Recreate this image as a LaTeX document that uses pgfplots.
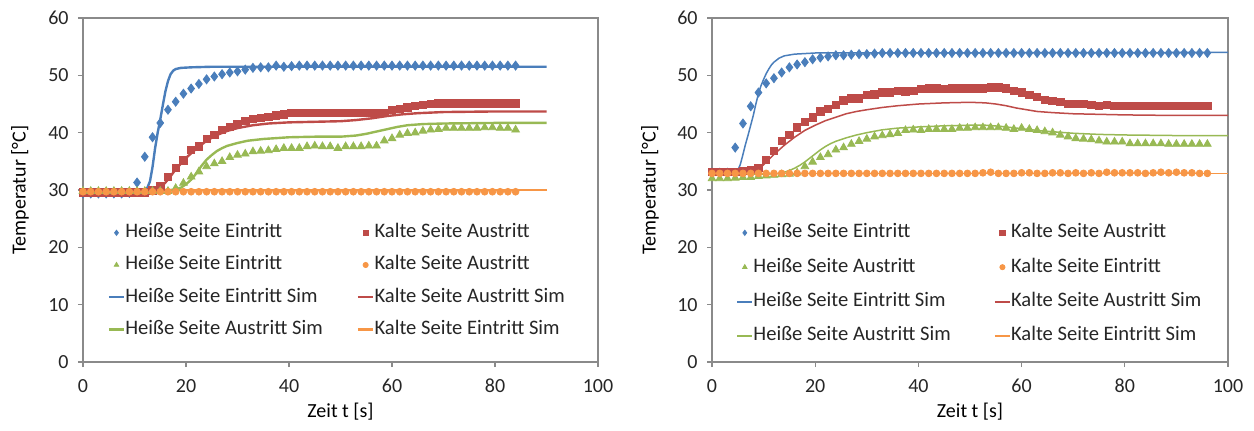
\documentclass[border=0pt]{standalone}
\usepackage{pgfplots}
\pgfplotsset{compat=1.18}
\usepackage{pgfplotstable}
\usepackage{fontspec}
\setmainfont{Carlito}

\definecolor{cblue}{HTML}{4A7EBB}
\definecolor{cred}{HTML}{BE4B48}
\definecolor{cgreen}{HTML}{98B954}
\definecolor{corange}{HTML}{F79646}
\definecolor{axgray}{HTML}{8A8A8A}
\definecolor{txt}{HTML}{262626}

\pgfplotstableread{
t B R G O
0 29.4 29.6 29.8 29.7
1.5 29.4 29.6 29.8 29.7
3 29.4 29.6 29.8 29.7
4.5 29.4 29.6 29.8 29.7
6 29.4 29.6 29.8 29.7
7.5 29.4 29.6 29.8 29.7
9 29.5 29.6 29.8 29.7
10.5 31.3 29.6 29.8 29.7
12 35.8 29.6 29.8 29.7
13.5 39.2 29.9 29.8 29.7
15 41.7 30.6 29.8 29.7
16.5 44.0 32.3 29.8 29.7
18 45.4 33.9 30.3 29.7
19.5 46.8 35.2 31.2 29.7
21 47.7 37.0 32.3 29.7
22.5 48.5 37.6 33.2 29.7
24 49.3 38.9 34.1 29.7
25.5 49.8 39.6 34.6 29.7
27 50.2 40.5 35.0 29.7
28.5 50.5 41.0 35.7 29.7
30 50.7 41.5 36.1 29.7
31.5 51.0 42.1 36.3 29.7
33 51.3 42.4 36.7 29.7
34.5 51.4 42.6 36.8 29.7
36 51.4 42.8 36.9 29.7
37.5 51.7 43.0 37.1 29.7
39 51.5 43.2 37.3 29.7
40.5 51.6 43.4 37.3 29.7
42 51.7 43.4 37.3 29.7
43.5 51.7 43.4 37.6 29.7
45 51.7 43.4 37.7 29.7
46.5 51.7 43.4 37.6 29.7
48 51.7 43.4 37.6 29.7
49.5 51.7 43.4 37.3 29.7
51 51.7 43.5 37.6 29.7
52.5 51.7 43.5 37.6 29.7
54 51.7 43.5 37.6 29.7
55.5 51.7 43.5 37.7 29.7
57 51.7 43.5 37.7 29.7
58.5 51.7 43.4 38.6 29.7
60 51.7 44.0 39.0 29.7
61.5 51.7 44.1 39.6 29.7
63 51.7 44.4 39.9 29.7
64.5 51.7 44.7 40.0 29.7
66 51.7 44.8 40.3 29.7
67.5 51.7 45.0 40.5 29.7
69 51.7 45.1 40.6 29.7
70.5 51.7 45.1 40.8 29.7
72 51.7 45.1 40.8 29.7
73.5 51.7 45.1 40.8 29.7
75 51.7 45.1 40.8 29.7
76.5 51.7 45.1 40.8 29.7
78 51.7 45.1 40.9 29.7
79.5 51.7 45.1 40.9 29.7
81 51.7 45.1 40.8 29.7
82.5 51.7 45.1 40.8 29.7
84 51.7 45.1 40.5 29.7
}\leftexp

\pgfplotstableread{
t B R G O
0 33.0 33.2 32.0 32.9
1.5 33.0 33.2 32.0 32.9
3 33.0 33.2 32.0 32.9
4.5 37.4 33.2 32.1 32.9
6 41.6 33.3 32.2 32.9
7.5 44.6 33.5 32.2 32.9
9 47.0 33.9 32.4 32.9
10.5 48.6 35.3 32.5 32.9
12 49.5 36.8 32.6 32.9
13.5 50.5 38.6 32.7 32.9
15 51.4 39.6 32.8 32.9
16.5 51.9 40.9 33.0 32.9
18 52.3 41.9 34.1 32.9
19.5 52.8 42.7 34.9 32.9
21 53.1 43.7 35.7 32.9
22.5 53.3 44.2 36.2 32.9
24 53.5 44.8 37.0 32.9
25.5 53.5 45.6 37.4 32.9
27 53.6 46.0 38.0 32.9
28.5 53.7 46.0 38.5 32.9
30 53.7 46.6 38.9 32.9
31.5 53.8 46.7 39.3 32.9
33 53.9 47.0 39.5 32.9
34.5 53.9 47.0 39.7 32.9
36 53.9 47.3 39.9 32.9
37.5 53.9 47.2 40.4 32.9
39 53.9 47.3 40.5 32.9
40.5 53.9 47.6 40.4 32.9
42 53.9 47.7 40.6 32.9
43.5 53.9 47.7 40.6 32.9
45 53.9 47.6 40.6 32.9
46.5 53.9 47.7 40.6 32.9
48 53.9 47.7 40.8 32.9
49.5 53.9 47.7 40.8 32.9
51 53.9 47.7 40.9 32.9
52.5 53.9 47.7 40.9 33.0
54 53.9 47.9 40.9 33.1
55.5 53.9 47.9 40.9 32.9
57 53.9 47.7 40.8 32.9
58.5 53.9 47.3 40.6 32.9
60 53.9 47.0 40.8 33.0
61.5 53.9 46.6 40.6 33.0
63 53.9 46.2 40.4 32.9
64.5 53.9 45.7 40.2 32.9
66 53.9 45.5 40.0 33.0
67.5 53.9 45.4 39.6 33.0
69 53.9 45.0 39.3 32.9
70.5 53.9 45.0 39.0 33.0
72 53.9 45.0 38.9 32.9
73.5 53.9 44.8 38.8 33.0
75 53.9 44.7 38.6 32.9
76.5 53.9 44.8 38.4 33.1
78 53.9 44.7 38.4 33.0
79.5 53.9 44.7 38.4 33.0
81 53.9 44.7 38.1 33.0
82.5 53.9 44.7 38.1 33.0
84 53.9 44.7 38.1 32.9
85.5 53.9 44.7 38.1 33.0
87 53.9 44.7 38.1 33.1
88.5 53.9 44.7 38.0 33.0
90 53.9 44.7 38.0 33.1
91.5 53.9 44.7 38.0 33.0
93 53.9 44.7 38.0 33.0
94.5 53.9 44.7 38.0 32.9
96 53.9 44.7 38.0 32.9
}\rightexp

\pgfplotsset{
  markleg/.style={legend image code/.code={\draw[##1,mark size=1.3pt] plot coordinates {(3.85pt,0pt)};}},
  lineleg/.style={legend image code/.code={\draw[##1] (0pt,0pt) -- (7.7pt,0pt);}},
  thinleg/.style={legend image code/.code={\draw[##1, line width=0.95pt] (0pt,0pt) -- (7.7pt,0pt);}},
  mkB/.style={only marks, mark=diamond*, mark size=2.25pt, color=cblue, markleg},
  mkR/.style={only marks, mark=square*, mark size=1.85pt, color=cred, markleg},
  mkG/.style={only marks, mark=triangle*, mark size=2.2pt, color=cgreen, markleg},
  mkO/.style={only marks, mark=*, mark size=1.7pt, color=corange, markleg},
  basestyle/.style={
    scale only axis, width=257.5pt, height=172pt,
    xmin=0, xmax=100, ymin=0, ymax=60,
    xtick={0,20,...,100}, ytick={0,10,...,60},
    axis line style={axgray, line width=0.6pt},
    tick style={axgray, line width=0.6pt},
    tick align=outside, xtick pos=bottom, ytick pos=left,
    major tick length=2.5pt,
    /pgf/number format/assume math mode=true,
    ticklabel style={font=\fontsize{10}{12}\selectfont, text=txt},
    xticklabel shift=2.5pt, yticklabel shift=1.2pt,
    label style={font=\fontsize{10}{12}\selectfont, text=txt},
    xlabel={Zeit t [s]}, ylabel={Temperatur [°C]},
    every axis x label/.style={at={(axis description cs:0.5,-0.1453)}, anchor=center},
    legend columns=2,
    legend cell align=left,
    legend style={draw=none, fill=none, inner sep=0pt, anchor=north west,
      font=\fontsize{10.3}{12}\selectfont, text=txt,
      nodes={inner sep=0pt, text height=7.3pt, text depth=2.4pt}},
  },
}

\begin{document}
\begin{tikzpicture}
\begin{axis}[basestyle, at={(41.5pt,34pt)}, anchor=south west,
  every axis y label/.style={at={(axis description cs:-0.1223,0.5)}, rotate=90, anchor=center},
  legend style={at={(axis description cs:0.047,0.405)}, row sep=6.4pt,
    /tikz/every even column/.append style={column sep=17pt}},
  ]
\addplot[mkB] table[x=t,y=B] {\leftexp};
\addlegendentry{Heiße Seite Eintritt}
\addplot[mkR] table[x=t,y=R] {\leftexp};
\addlegendentry{Kalte Seite Austritt}
\addplot[mkG] table[x=t,y=G] {\leftexp};
\addlegendentry{Heiße Seite Eintritt}
\addplot[mkO] table[x=t,y=O] {\leftexp};
\addlegendentry{Kalte Seite Austritt}
\addplot[color=cblue, line width=1.2pt, lineleg] coordinates {(0,30) (11.5,30) (12,30.1) (12.5,30.4) (13,31.5) (13.5,34.0) (14,37.3) (14.5,40.0) (15,42.3) (15.5,44.8) (16,47.2) (16.5,49.0) (17,50.2) (17.5,50.8) (18,51.1) (19,51.3) (21,51.4) (25,51.5) (90,51.5)};
\addlegendentry{Heiße Seite Eintritt Sim}
\addplot[color=cred, line width=1.2pt, lineleg] coordinates {(0,30) (13,30) (14,30.1) (15,30.4) (16,31.3) (17,32.4) (18,33.6) (20,35.6) (22,37.2) (24,38.6) (26,39.6) (28,40.3) (30,40.8) (33,41.3) (36,41.6) (40,41.8) (45,41.9) (50,42.0) (53,42.2) (56,42.5) (59,42.9) (62,43.2) (65,43.4) (70,43.6) (80,43.7) (90,43.7)};
\addlegendentry{Kalte Seite Austritt Sim}
\addplot[color=cgreen, line width=1.2pt, lineleg] coordinates {(0,30) (17,30) (18,30.1) (19,30.4) (20,31.0) (21,31.8) (22,32.9) (23,34.2) (24,35.3) (25,36.1) (26,36.8) (27,37.3) (28,37.7) (30,38.2) (32,38.6) (35,38.9) (40,39.2) (45,39.3) (50,39.3) (53,39.5) (55,39.8) (57,40.2) (59,40.6) (61,41.0) (63,41.3) (66,41.5) (70,41.6) (80,41.7) (90,41.7)};
\addlegendentry{Heiße Seite Austritt Sim}
\addplot[color=corange, line width=1.2pt, lineleg] coordinates {(0,30) (90,30)};
\addlegendentry{Kalte Seite Eintritt Sim}
\end{axis}

\begin{axis}[basestyle, at={(356pt,34pt)}, anchor=south west, width=258pt,
  every axis y label/.style={at={(axis description cs:-0.120,0.5)}, rotate=90, anchor=center},
  legend style={at={(axis description cs:0.046,0.405)}, row sep=7.5pt,
    /tikz/every even column/.append style={column sep=21.5pt}},
  ]
\addplot[mkB] table[x=t,y=B] {\rightexp};
\addlegendentry{Heiße Seite Eintritt}
\addplot[mkR] table[x=t,y=R] {\rightexp};
\addlegendentry{Kalte Seite Austritt}
\addplot[mkG] table[x=t,y=G] {\rightexp};
\addlegendentry{Heiße Seite Austritt}
\addplot[mkO] table[x=t,y=O] {\rightexp};
\addlegendentry{Kalte Seite Eintritt}
\addplot[color=cblue, line width=0.75pt, thinleg] coordinates {(0,33.0) (4,33.0) (4.5,33.1) (5,33.4) (5.5,34.5) (6,36.2) (6.5,38.0) (7,39.6) (7.5,41.3) (8,43.0) (8.5,45.0) (9,46.8) (9.5,48.2) (10,49.3) (10.5,50.3) (11,51.1) (11.5,51.8) (12,52.3) (13,53.0) (14,53.4) (16,53.7) (20,53.9) (100,54.0)};
\addlegendentry{Heiße Seite Eintritt Sim}
\addplot[color=cred, line width=0.75pt, thinleg] coordinates {(0,33.2) (7,33.2) (8,33.3) (9,33.7) (10,34.4) (11,35.3) (12,36.2) (13,37.0) (14,37.8) (15,38.5) (16,39.2) (18,40.4) (20,41.3) (22,42.1) (24,42.7) (26,43.3) (28,43.7) (30,44.0) (33,44.4) (36,44.7) (40,45.0) (45,45.2) (50,45.3) (53,45.2) (55,45.0) (57,44.7) (59,44.3) (61,44.0) (63,43.7) (66,43.5) (70,43.3) (75,43.2) (80,43.1) (90,43.0) (100,43.0)};
\addlegendentry{Kalte Seite Austritt Sim}
\addplot[color=cgreen, line width=0.75pt, thinleg] coordinates {(0,32.7) (12,32.8) (13,32.9) (14,33.1) (15,33.4) (16,33.8) (17,34.3) (18,34.9) (19,35.6) (20,36.3) (21,37.0) (22,37.6) (23,38.1) (24,38.5) (26,39.1) (28,39.6) (30,40.0) (33,40.5) (36,40.8) (40,41.0) (45,41.2) (50,41.3) (53,41.3) (56,41.1) (58,40.9) (60,40.7) (62,40.5) (64,40.3) (67,40.1) (70,39.9) (75,39.7) (80,39.6) (90,39.5) (100,39.5)};
\addlegendentry{Heiße Seite Austritt Sim}
\addplot[color=corange, line width=0.75pt, thinleg] coordinates {(0,32.9) (100,32.9)};
\addlegendentry{Kalte Seite Eintritt Sim}
\end{axis}
\pgfresetboundingbox
\path[use as bounding box] (0,0) rectangle (627pt,215pt);
\end{tikzpicture}
\end{document}
